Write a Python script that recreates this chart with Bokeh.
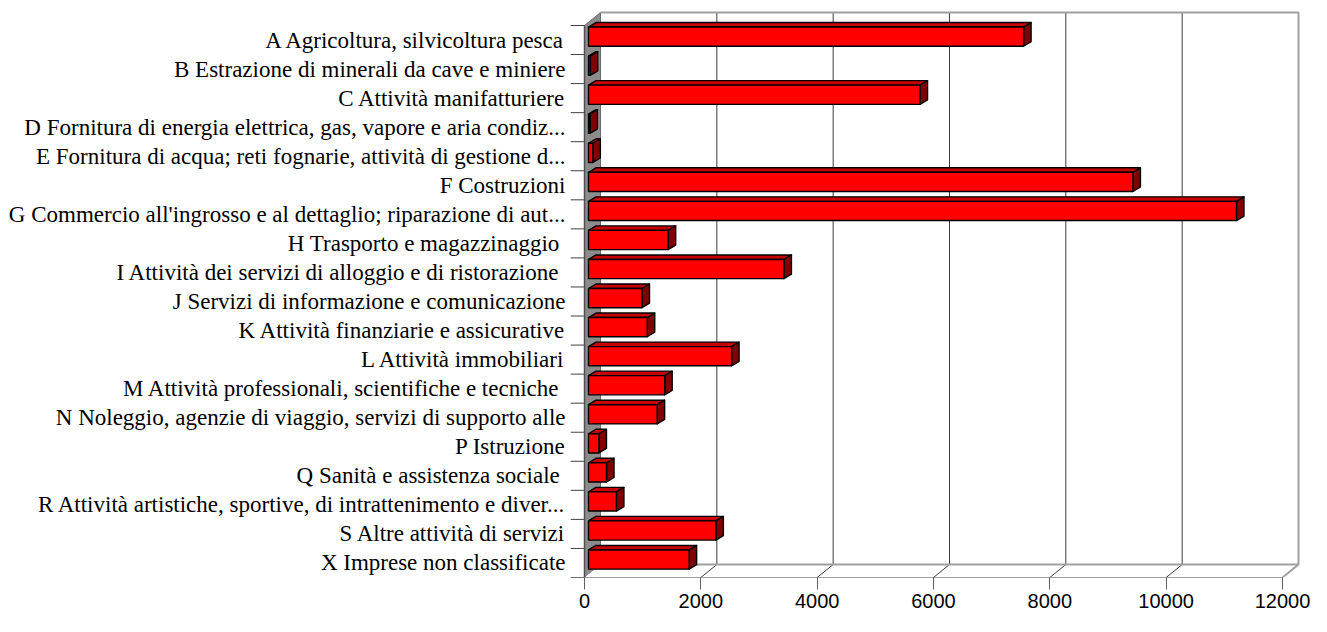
from bokeh.plotting import figure
from bokeh.models import Range1d, FixedTicker
from bokeh.embed import file_html
from bokeh.resources import INLINE

# ---------------- data ----------------
categories = [
    "A Agricoltura, silvicoltura pesca",
    "B Estrazione di minerali da cave e miniere",
    "C Attività manifatturiere",
    "D Fornitura di energia elettrica, gas, vapore e aria condiz...",
    "E Fornitura di acqua; reti fognarie, attività di gestione d...",
    "F Costruzioni",
    "G Commercio all'ingrosso e al dettaglio; riparazione di aut...",
    "H Trasporto e magazzinaggio ",
    "I Attività dei servizi di alloggio e di ristorazione ",
    "J Servizi di informazione e comunicazione",
    "K Attività finanziarie e assicurative",
    "L Attività immobiliari",
    "M  Attività professionali, scientifiche e tecniche",
    "N Noleggio, agenzie di viaggio, servizi di supporto alle",
    "P Istruzione",
    "Q Sanità e assistenza sociale ",
    "R Attività artistiche, sportive, di intrattenimento e diver...",
    "S Altre attività di servizi",
    "X Imprese non classificate",
]
values = [7480, 30, 5700, 25, 75, 9360, 11140, 1370, 3360, 920,
          1010, 2460, 1310, 1180, 180, 310, 480, 2190, 1730]
x_ticks = [0, 2000, 4000, 6000, 8000, 10000, 12000]

# ---------------- layout (canvas pixels) ----------------
W, H = 1311, 616
FRAME_L, FRAME_R, FRAME_T, FRAME_B = 570, 1302, 10, 577
ZERO_PX, MAX_PX = 584, 1282          # front-plane x of 0 and of 12000
FRONT_TOP = 25                         # front-plane y of the top
n = len(categories)
X_MAX = x_ticks[-1]
s = (MAX_PX - ZERO_PX) / X_MAX         # px per value unit
pitch = (FRAME_B - FRONT_TOP) / n      # px per category
px_x = 1.0 / s
px_y = 1.0 / pitch

x0 = -(ZERO_PX - FRAME_L) * px_x
x1 = X_MAX + (FRAME_R - MAX_PX) * px_x
y0 = 0.0
y1 = (FRAME_B - FRAME_T) * px_y

# 3D offsets (px converted to data units)
dX, dY = 16 * px_x, 13 * px_y          # wall depth
fX, fY = 4 * px_x, 3.4 * px_y          # bar front-face offset
bX, bY = 7.5 * px_x, 4.5 * px_y        # bar depth
hh = 9.6 * px_y                        # half bar height

p = figure(width=W, height=H, output_backend="svg", toolbar_location=None,
           x_range=Range1d(x0, x1), y_range=Range1d(y0, y1),
           min_border_left=FRAME_L, min_border_right=W - FRAME_R,
           min_border_top=FRAME_T, min_border_bottom=H - FRAME_B)
p.outline_line_color = None
p.xgrid.visible = False
p.ygrid.visible = False
p.background_fill_color = "white"
p.border_fill_color = "white"

# ---- walls ----
p.quad(left=[dX], right=[X_MAX + dX], bottom=[dY], top=[n + dY],
       fill_color="white", line_color=None)
p.patch([0, 0, dX, dX], [0, n, n + dY, dY], fill_color="#8c8c8c",
        line_color="#6a6a6a", line_width=1)
p.patch([0, X_MAX, X_MAX + dX, dX], [0, 0, dY, dY], fill_color="white",
        line_color=None)

grid_v = x_ticks[1:-1]
p.segment(x0=[v + dX for v in grid_v], y0=[dY] * len(grid_v),
          x1=[v + dX for v in grid_v], y1=[n + dY] * len(grid_v),
          line_color="#3c3c3c", line_width=1)
p.segment(x0=grid_v, y0=[0] * len(grid_v),
          x1=[v + dX for v in grid_v], y1=[dY] * len(grid_v),
          line_color="#3c3c3c", line_width=1)
p.line([dX, X_MAX + dX, X_MAX + dX], [n + dY, n + dY, dY],
       line_color="#a0a0a0", line_width=2)
p.line([dX, X_MAX + dX, X_MAX], [dY, dY, 0],
       line_color="#a0a0a0", line_width=2)
p.line([0, 0], [0, n], line_color="#505050", line_width=1.5)

p.line([x0, X_MAX], [0, 0], line_color="#404040", line_width=1.2)
p.segment(x0=[x0] * (n + 1), y0=list(range(n + 1)),
          x1=[0] * (n + 1), y1=list(range(n + 1)),
          line_color="#404040", line_width=1)

# ---- bars ----
centers = [n - i - 0.5 for i in range(n)]
left = [fX] * n
right = [v + fX for v in values]
bottom = [c - hh + fY for c in centers]
top = [c + hh + fY for c in centers]

top_xs = [[l, r, r + bX, l + bX] for l, r in zip(left, right)]
top_ys = [[t, t, t + bY, t + bY] for t in top]
side_xs = [[r, r, r + bX, r + bX] for r in right]
side_ys = [[b, t, t + bY, b + bY] for b, t in zip(bottom, top)]

p.patches(top_xs, top_ys, fill_color="#c80000", line_color="black",
          line_width=1.4, line_join="round")
p.patches(side_xs, side_ys, fill_color="#800000", line_color="black",
          line_width=1.4, line_join="round")
p.quad(left=left, right=right, bottom=bottom, top=top,
       fill_color="#ff0000", line_color="black", line_width=1.4)

# ---- axes ----
xa = p.xaxis[0]
xa.ticker = FixedTicker(ticks=x_ticks)
xa.axis_line_color = None
xa.major_tick_line_color = "#606060"
xa.major_tick_out = 12
xa.major_tick_in = 0
xa.minor_tick_line_color = None
xa.major_label_text_font = "Liberation Sans"
xa.major_label_text_font_size = "20px"
xa.major_label_text_color = "black"
xa.major_label_standoff = 4

ya = p.yaxis[0]
ya.ticker = FixedTicker(ticks=centers)
ya.major_label_overrides = {c: lab for c, lab in zip(centers, categories)}
ya.axis_line_color = None
ya.major_tick_line_color = None
ya.major_tick_out = 0
ya.major_tick_in = 0
ya.minor_tick_line_color = None
ya.major_label_text_font = "Liberation Serif"
ya.major_label_text_font_size = "23px"
ya.major_label_text_color = "black"
ya.major_label_standoff = 5

open("out.html", "w").write(file_html(p, INLINE))
